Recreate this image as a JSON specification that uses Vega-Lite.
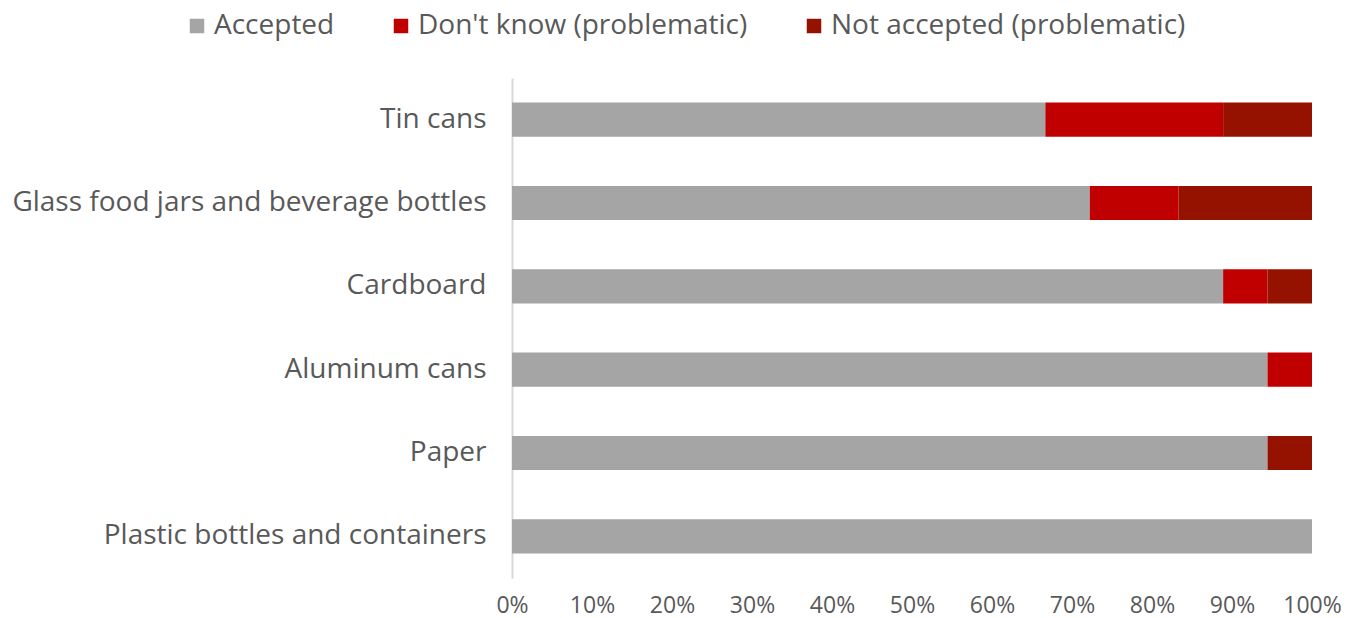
{
  "$schema": "https://vega.github.io/schema/vega-lite/v6.json",
  "autosize": {"type": "none"},
  "padding": {"left": 512, "top": 78, "right": 45, "bottom": 40},
  "width": 800,
  "height": 500,
  "background": "#ffffff",
  "config": {
    "font": "Open Sans",
    "view": {"stroke": null},
    "axis": {"labelColor": "#595959", "labelFont": "Open Sans", "grid": false, "ticks": false, "title": null}
  },
  "data": {
    "values": [
      {"item": "Tin cans", "status": "Accepted", "share": 0.6667},
      {"item": "Tin cans", "status": "Don't know (problematic)", "share": 0.2222},
      {"item": "Tin cans", "status": "Not accepted (problematic)", "share": 0.1111},
      {"item": "Glass food jars and beverage bottles", "status": "Accepted", "share": 0.7222},
      {"item": "Glass food jars and beverage bottles", "status": "Don't know (problematic)", "share": 0.1111},
      {"item": "Glass food jars and beverage bottles", "status": "Not accepted (problematic)", "share": 0.1667},
      {"item": "Cardboard", "status": "Accepted", "share": 0.8889},
      {"item": "Cardboard", "status": "Don't know (problematic)", "share": 0.0556},
      {"item": "Cardboard", "status": "Not accepted (problematic)", "share": 0.0555},
      {"item": "Aluminum cans", "status": "Accepted", "share": 0.9444},
      {"item": "Aluminum cans", "status": "Don't know (problematic)", "share": 0.0556},
      {"item": "Aluminum cans", "status": "Not accepted (problematic)", "share": 0},
      {"item": "Paper", "status": "Accepted", "share": 0.9444},
      {"item": "Paper", "status": "Don't know (problematic)", "share": 0},
      {"item": "Paper", "status": "Not accepted (problematic)", "share": 0.0556},
      {"item": "Plastic bottles and containers", "status": "Accepted", "share": 1.0},
      {"item": "Plastic bottles and containers", "status": "Don't know (problematic)", "share": 0},
      {"item": "Plastic bottles and containers", "status": "Not accepted (problematic)", "share": 0}
    ]
  },
  "mark": {"type": "bar"},
  "encoding": {
    "y": {
      "field": "item",
      "type": "nominal",
      "sort": null,
      "scale": {"paddingInner": 0.59, "paddingOuter": 0.295},
      "axis": {
        "labelFontSize": 28,
        "labelPadding": 26,
        "domainColor": "#D9D9D9",
        "domainWidth": 2,
        "labelLimit": 600
      }
    },
    "x": {
      "field": "share",
      "type": "quantitative",
      "stack": "zero",
      "scale": {"domain": [0, 1], "nice": false},
      "axis": {
        "format": ".0%",
        "values": [0, 0.1, 0.2, 0.3, 0.4, 0.5, 0.6, 0.7, 0.8, 0.9, 1.0],
        "labelFontSize": 23,
        "labelPadding": 16,
        "labelFlush": false,
        "domain": false
      }
    },
    "color": {
      "field": "status",
      "type": "nominal",
      "scale": {
        "domain": ["Accepted", "Don't know (problematic)", "Not accepted (problematic)"],
        "range": ["#A5A5A5", "#C00000", "#961200"]
      },
      "legend": {
        "title": null,
        "orient": "none",
        "direction": "horizontal",
        "legendX": -329,
        "legendY": -66,
        "symbolType": "square",
        "symbolSize": 210,
        "symbolStrokeWidth": 0,
        "labelFontSize": 28,
        "labelColor": "#595959",
        "labelFont": "Open Sans",
        "labelOffset": 3,
        "columnPadding": 52,
        "labelLimit": 500
      }
    }
  }
}
